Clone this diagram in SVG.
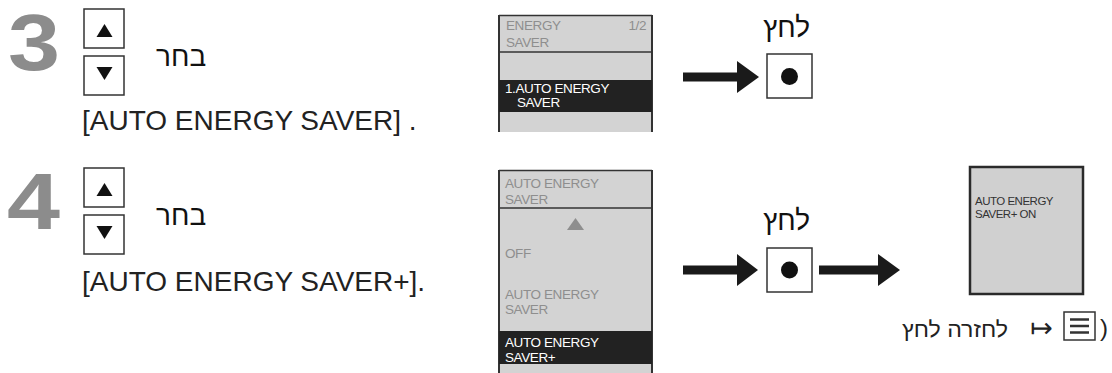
<svg xmlns="http://www.w3.org/2000/svg" width="1112" height="373" viewBox="0 0 1112 373">
<style>
text{font-family:"Liberation Sans","DejaVu Sans",Arial,sans-serif}
.num{font-size:80px;font-weight:bold;fill:#8c8c8c}
.heb{font-size:28px;fill:#111}
.cap{font-size:28px;fill:#222}
.btn{fill:#fff;stroke:#333;stroke-width:1.5}
.tri{fill:#111}
.scr{fill:#d3d3d3}
.edge{stroke:#333;stroke-width:2;fill:none}
.sep{stroke:#333;stroke-width:1.3}
.st{font-size:13.5px;fill:#8e8e8e;letter-spacing:-0.4px}
.sw{font-size:13.5px;fill:#fff;letter-spacing:-0.4px}
.bar{fill:#222}
.arr{fill:#1a1a1a}
.s3{font-size:11.5px;fill:#333;letter-spacing:-0.5px}
</style>
<rect width="1112" height="373" fill="#fff"/>

<g id="step3-number"><text class="num" x="8" y="70" textLength="52" lengthAdjust="spacingAndGlyphs">3</text></g>
<g id="step3-updown">
  <rect class="btn" x="84" y="9" width="40" height="39"/>
  <polygon class="tri" points="104.5,24 96.5,37 112.5,37"/>
  <rect class="btn" x="84" y="56" width="40" height="39"/>
  <polygon class="tri" points="96.5,67 112.5,67 104.5,80"/>
</g>
<g id="step3-select"><text class="heb" x="156" y="66">בחר</text></g>
<g id="step3-caption"><text class="cap" x="82" y="130">[AUTO ENERGY SAVER] .</text></g>

<g id="screen1">
  <rect class="scr" x="499" y="15" width="153" height="117"/>
  <line class="sep" x1="499" y1="15.5" x2="652" y2="15.5"/>
  <path class="edge" d="M499,132 V15 M652,15 V132"/>
  <line class="sep" x1="499" y1="52" x2="652" y2="52"/>
  <text class="st" x="506" y="30">ENERGY</text>
  <text class="st" x="506" y="47">SAVER</text>
  <text class="st" x="646" y="30" text-anchor="end">1/2</text>
  <rect class="bar" x="499" y="80" width="153" height="32"/>
  <text class="sw" x="505" y="93">1.AUTO ENERGY</text>
  <text class="sw" x="517" y="107">SAVER</text>
</g>

<g id="press1-label"><text class="heb" x="810" y="37" text-anchor="end">לחץ</text></g>
<g id="press1-button">
  <rect class="btn" x="767" y="54" width="45" height="44"/>
  <circle cx="789.5" cy="76.5" r="8.5" fill="#111"/>
</g>

<g id="step4-number"><text class="num" x="7" y="229" textLength="53" lengthAdjust="spacingAndGlyphs">4</text></g>
<g id="step4-updown">
  <rect class="btn" x="84" y="168" width="40" height="39"/>
  <polygon class="tri" points="104.5,183 96.5,196 112.5,196"/>
  <rect class="btn" x="84" y="215" width="40" height="39"/>
  <polygon class="tri" points="96.5,226 112.5,226 104.5,239"/>
</g>
<g id="step4-select"><text class="heb" x="156" y="225">בחר</text></g>
<g id="step4-caption"><text class="cap" x="82" y="291">[AUTO ENERGY SAVER+].</text></g>

<g id="screen2">
  <rect class="scr" x="499" y="170" width="153" height="203"/>
  <line class="sep" x1="499" y1="170.5" x2="652" y2="170.5"/>
  <path class="edge" d="M499,373 V170 M652,170 V373"/>
  <line class="sep" x1="499" y1="208" x2="652" y2="208"/>
  <text class="st" x="505" y="188">AUTO ENERGY</text>
  <text class="st" x="505" y="204">SAVER</text>
  <polygon points="575.5,218 567,230 584,230" fill="#8e8e8e"/>
  <text class="st" x="505" y="258">OFF</text>
  <text class="st" x="505" y="299">AUTO ENERGY</text>
  <text class="st" x="505" y="314">SAVER</text>
  <rect class="bar" x="499" y="331" width="153" height="33"/>
  <text class="sw" x="505" y="347">AUTO ENERGY</text>
  <text class="sw" x="505" y="362">SAVER+</text>
</g>

<g id="press2-label"><text class="heb" x="810" y="230" text-anchor="end">לחץ</text></g>
<g id="press2-button">
  <rect class="btn" x="767" y="248" width="45" height="44"/>
  <circle cx="789.5" cy="270" r="8.5" fill="#111"/>
</g>

<g id="screen3">
  <rect x="970" y="167" width="113" height="127" fill="#d0d0d0" stroke="#2a2a2a" stroke-width="2.5"/>
  <text class="s3" x="975" y="205">AUTO ENERGY</text>
  <text class="s3" x="975" y="218">SAVER+ ON</text>
</g>

<g id="return-note">
  <text x="902" y="337" textLength="106" lengthAdjust="spacingAndGlyphs" style="font-size:22px;fill:#222">לחזרה לחץ</text>
  <text x="1030" y="337" style="font-family:'DejaVu Sans',sans-serif;font-size:27px;fill:#222">↦</text>
  <rect x="1064" y="312" width="31" height="28" fill="#fff" stroke="#333" stroke-width="1.5"/>
  <path d="M1070,319.5 H1089 M1070,326 H1089 M1070,332.5 H1089" stroke="#333" stroke-width="2.5"/>
  <text x="1100" y="336" style="font-size:24px;fill:#222">)</text>
</g>

<g id="connectors">
  <path class="arr" d="M683,72.5 H737 V61 L759,77 L737,93 V81.5 H683 Z"/>
  <path class="arr" d="M683,265.5 H737 V254 L758,270 L737,286 V274.5 H683 Z"/>
  <path class="arr" d="M819,265.5 H878 V254 L900,270 L878,286 V274.5 H819 Z"/>
</g>
</svg>
